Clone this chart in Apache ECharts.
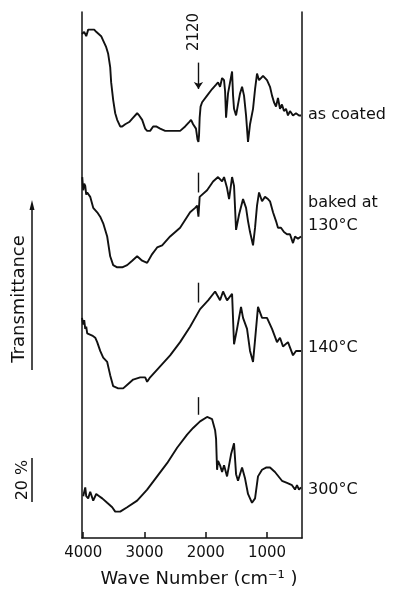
<!DOCTYPE html>
<html><head><meta charset="utf-8">
<script src="https://cdn.jsdelivr.net/npm/echarts@6/dist/echarts.min.js"></script>
<style>html,body{margin:0;padding:0;background:#fff}#c{width:403px;height:590px}</style>
</head><body><div id="c"></div>
<script>
// Wave number ticks (cm-1)
const xTicks = [4000, 3000, 2000, 1000];

// Offset transmittance (% units, curves stacked) vs wave number
const asCoated = [[4020,229],[3984,230],[3951,228],[3919,231],[3870,231],[3821,231],[3788,230],[3756,230],[3707,228],[3674,226],[3625,223],[3593,220],[3560,214],[3544,207],[3511,199],[3478,193],[3446,190],[3397,187],[3364,187],[3315,188],[3250,189],[3185,191],[3120,193],[3087,192],[3038,190],[2989,186],[2957,185],[2908,185],[2859,187],[2810,187],[2745,186],[2663,185],[2582,185],[2500,185],[2419,185],[2337,187],[2272,189],[2240,190],[2207,188],[2160,186],[2135,181],[2120,180],[2110,183],[2100,191],[2085,196],[2060,198],[1979,201],[1897,204],[1832,206],[1800,207],[1767,205],[1734,209],[1702,208],[1685,203],[1669,191],[1637,202],[1604,207],[1571,212],[1555,201],[1539,195],[1506,192],[1474,197],[1441,202],[1408,205],[1376,201],[1343,192],[1311,180],[1278,188],[1229,195],[1196,204],[1164,211],[1131,208],[1099,209],[1066,210],[1034,210],[1001,208],[952,205],[919,201],[887,198],[854,196],[822,200],[789,195],[757,197],[724,194],[691,195],[659,192],[626,194],[577,192],[528,193],[479,192],[446,192]];

const baked130 = [[4016,164],[4000,158],[3984,161],[3967,160],[3951,156],[3935,157],[3886,155],[3837,150],[3772,148],[3723,146],[3674,143],[3609,137],[3560,128],[3511,124],[3446,123],[3364,123],[3283,124],[3201,126],[3120,128],[3038,126],[2957,125],[2875,129],[2794,132],[2712,133],[2582,137],[2419,141],[2256,148],[2174,150],[2140,151],[2120,146],[2100,155],[1979,158],[1881,162],[1800,164],[1734,162],[1702,164],[1653,159],[1620,154],[1571,164],[1539,160],[1506,140],[1457,147],[1392,154],[1343,150],[1311,144],[1278,139],[1229,133],[1196,141],[1164,151],[1131,157],[1082,153],[1034,155],[985,154],[952,153],[903,148],[854,144],[822,141],[773,141],[724,139],[675,138],[626,138],[577,134],[544,137],[496,136],[446,137]];

const baked140 = [[4020,100],[4000,97],[3984,99],[3967,95],[3951,96],[3935,93],[3853,92],[3804,91],[3772,89],[3723,85],[3674,82],[3609,80],[3560,74],[3511,69],[3430,68],[3348,68],[3267,70],[3185,72],[3071,73],[2989,73],[2957,71],[2908,73],[2745,78],[2582,83],[2419,89],[2256,96],[2093,104],[1962,108],[1848,112],[1767,108],[1718,112],[1653,108],[1571,111],[1539,88],[1490,95],[1425,105],[1392,100],[1327,95],[1278,85],[1229,80],[1196,90],[1148,105],[1082,100],[1001,100],[919,95],[838,89],[789,91],[740,87],[659,89],[577,83],[528,85],[446,85]];

const baked300 = [[4000,19],[3967,23],[3951,19],[3919,18],[3886,21],[3837,17],[3788,20],[3739,19],[3690,18],[3609,16],[3527,14],[3478,12],[3397,12],[3283,14],[3120,17],[2957,22],[2794,28],[2631,34],[2468,41],[2305,47],[2207,50],[2093,53],[1979,55],[1897,54],[1848,49],[1832,45],[1816,31],[1800,35],[1767,33],[1734,30],[1702,33],[1653,28],[1588,38],[1539,43],[1506,29],[1474,26],[1408,32],[1359,27],[1311,20],[1246,16],[1196,18],[1148,28],[1082,31],[1017,32],[952,32],[871,30],[757,26],[675,25],[593,24],[544,22],[512,24],[479,22],[446,23]];

// 2120 cm-1 marker spans (top, bottom) for each curve
const markerWave = 2120;
const markerSpans = [[216,204],[166,157],[116,107],[64,56]];
const seriesNames = ['as coated', 'baked at 130°C', '140°C', '300°C'];
const curves = [asCoated, baked130, baked140, baked300];

const ink = '#111';
const FONT = 'DejaVu Sans';

const chart = echarts.init(document.getElementById('c'), null, {renderer: 'canvas'});

const series = curves.map((d, i) => ({
  name: seriesNames[i],
  type: 'line',
  data: d,
  showSymbol: false,
  symbol: 'none',
  lineStyle: {color: ink, width: 1.9},
  animation: false,
  z: 3,
  markLine: {
    silent: true,
    animation: false,
    symbol: i === 0 ? ['none', 'arrow'] : ['none', 'none'],
    symbolSize: 7,
    label: {show: false},
    lineStyle: {color: ink, width: 1.4, type: 'solid'},
    data: [[{coord: [markerWave, markerSpans[i][0]]}, {coord: [markerWave, markerSpans[i][1]]}]]
  }
}));

const yBase = {
  type: 'value', min: 0, max: 239,
  axisLine: {show: true, onZero: false, lineStyle: {color: ink, width: 1.5}},
  axisTick: {show: false}, axisLabel: {show: false}, splitLine: {show: false}
};

chart.setOption({
  backgroundColor: '#fff',
  animation: false,
  grid: {left: 82, right: 101, top: 12, bottom: 52, containLabel: false, outerBoundsMode: 'none'},
  xAxis: {
    type: 'value', inverse: true, min: 430, max: 4020,
    axisLine: {show: true, onZero: false, lineStyle: {color: ink, width: 1.5}},
    axisTick: {show: true, inside: true, length: 6, customValues: xTicks, lineStyle: {color: ink, width: 1.5}},
    axisLabel: {customValues: xTicks, color: ink, fontSize: 15, fontFamily: FONT, margin: 8,
                formatter: v => String(v)},
    splitLine: {show: false},
    name: 'Wave Number (cm⁻¹ )',
    nameLocation: 'middle',
    nameGap: 32,
    nameTextStyle: {color: ink, fontSize: 18, fontFamily: FONT, padding: [0, 0, 0, 14]}
  },
  yAxis: [Object.assign({position: 'left'}, yBase), Object.assign({position: 'right'}, yBase)],
  series: series,
  graphic: [
    {type: 'text', x: 194, y: 32, rotation: Math.PI / 2,
     style: {text: '2120', fontSize: 15, fontFamily: FONT, fill: ink, align: 'center', verticalAlign: 'middle'}},
    {type: 'text', x: 19, y: 299, rotation: Math.PI / 2,
     style: {text: 'Transmittance', fontSize: 18, fontFamily: FONT, fill: ink, align: 'center', verticalAlign: 'middle'}},
    {type: 'line', shape: {x1: 32, y1: 370, x2: 32, y2: 206}, style: {stroke: ink, lineWidth: 1.5}},
    {type: 'polygon', shape: {points: [[32, 200], [29.5, 210], [34.5, 210]]}, style: {fill: ink}},
    {type: 'text', x: 23, y: 480, rotation: Math.PI / 2,
     style: {text: '20 %', fontSize: 16, fontFamily: FONT, fill: ink, align: 'center', verticalAlign: 'middle'}},
    {type: 'line', shape: {x1: 32, y1: 458, x2: 32, y2: 502}, style: {stroke: ink, lineWidth: 1.5}},
    {type: 'text', x: 308, y: 115, style: {text: 'as coated', fontSize: 16, fontFamily: FONT, fill: ink, align: 'left', verticalAlign: 'middle'}},
    {type: 'text', x: 308, y: 203, style: {text: 'baked at', fontSize: 16, fontFamily: FONT, fill: ink, align: 'left', verticalAlign: 'middle'}},
    {type: 'text', x: 308, y: 226, style: {text: '130°C', fontSize: 16, fontFamily: FONT, fill: ink, align: 'left', verticalAlign: 'middle'}},
    {type: 'text', x: 308, y: 348, style: {text: '140°C', fontSize: 16, fontFamily: FONT, fill: ink, align: 'left', verticalAlign: 'middle'}},
    {type: 'text', x: 308, y: 490, style: {text: '300°C', fontSize: 16, fontFamily: FONT, fill: ink, align: 'left', verticalAlign: 'middle'}}
  ]
});
</script>
</body></html>
